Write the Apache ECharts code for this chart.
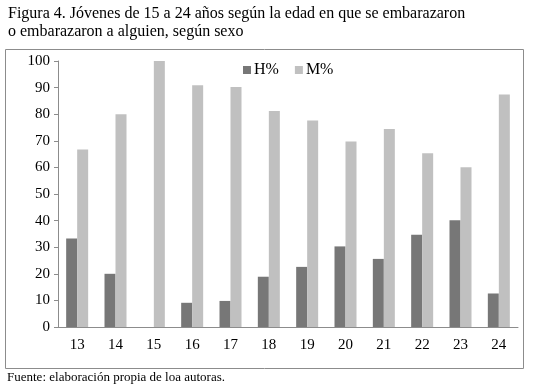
<!DOCTYPE html>
<html>
<head>
<meta charset="utf-8">
<script src="https://cdn.jsdelivr.net/npm/echarts@6/dist/echarts.min.js"></script>
<style>
  html, body { margin: 0; padding: 0; background: #fff; }
  #chart { width: 533px; height: 389px; }
</style>
</head>
<body>
<div id="chart"></div>
<script>
const edades = ["13", "14", "15", "16", "17", "18", "19", "20", "21", "22", "23", "24"];
const hombres = [33.3, 20.0, 0, 9.1, 9.8, 18.9, 22.6, 30.3, 25.6, 34.7, 40.1, 12.6];
const mujeres = [66.7, 80.0, 100, 90.9, 90.2, 81.2, 77.6, 69.7, 74.4, 65.3, 60.1, 87.4];

const serif = "Liberation Serif";
const chart = echarts.init(document.getElementById("chart"));

chart.setOption({
  animation: false,
  title: {
    text: "Figura 4. Jóvenes de 15 a 24 años según la edad en que se embarazaron\no embarazaron a alguien, según sexo",
    left: 8,
    top: 5,
    padding: 0,
    textStyle: {
      fontFamily: serif,
      fontWeight: "normal",
      fontSize: 16,
      lineHeight: 18,
      color: "#000"
    }
  },
  graphic: [
    {
      type: "rect",
      shape: { x: 5.5, y: 49.5, width: 518, height: 319 },
      style: { fill: "none", stroke: "#8c8c8c", lineWidth: 1 },
      z: -1
    },
    {
      type: "text",
      left: 7,
      top: 371,
      style: {
        text: "Fuente: elaboración propia de loa autoras.",
        font: "13px 'Liberation Serif'",
        fill: "#000"
      }
    }
  ],
  legend: {
    data: ["H%", "M%"],
    left: 238,
    top: 57,
    icon: "rect",
    itemWidth: 8,
    itemHeight: 8,
    itemGap: 16,
    textStyle: { fontFamily: serif, fontSize: 16, color: "#000", padding: [0, 0, 0, -2] }
  },
  grid: {
    left: 58,
    right: 15,
    top: 61,
    bottom: 62
  },
  xAxis: {
    type: "category",
    data: edades,
    axisLine: { lineStyle: { color: "#8c8c8c" } },
    axisTick: { length: 5, lineStyle: { color: "#8c8c8c" } },
    axisLabel: { fontFamily: serif, fontSize: 15, color: "#000", margin: 11 }
  },
  yAxis: {
    type: "value",
    min: 0,
    max: 100,
    interval: 10,
    splitLine: { show: false },
    axisLine: { show: true, lineStyle: { color: "#8c8c8c" } },
    axisTick: { show: true, length: 4, lineStyle: { color: "#8c8c8c" } },
    axisLabel: { fontFamily: serif, fontSize: 15, color: "#000", margin: 8 }
  },
  series: [
    {
      name: "H%",
      type: "bar",
      data: hombres,
      barWidth: 11,
      barGap: "0%",
      itemStyle: { color: "#777777" }
    },
    {
      name: "M%",
      type: "bar",
      data: mujeres,
      barWidth: 11,
      itemStyle: { color: "#c0c0c0" }
    }
  ]
});
</script>
</body>
</html>
